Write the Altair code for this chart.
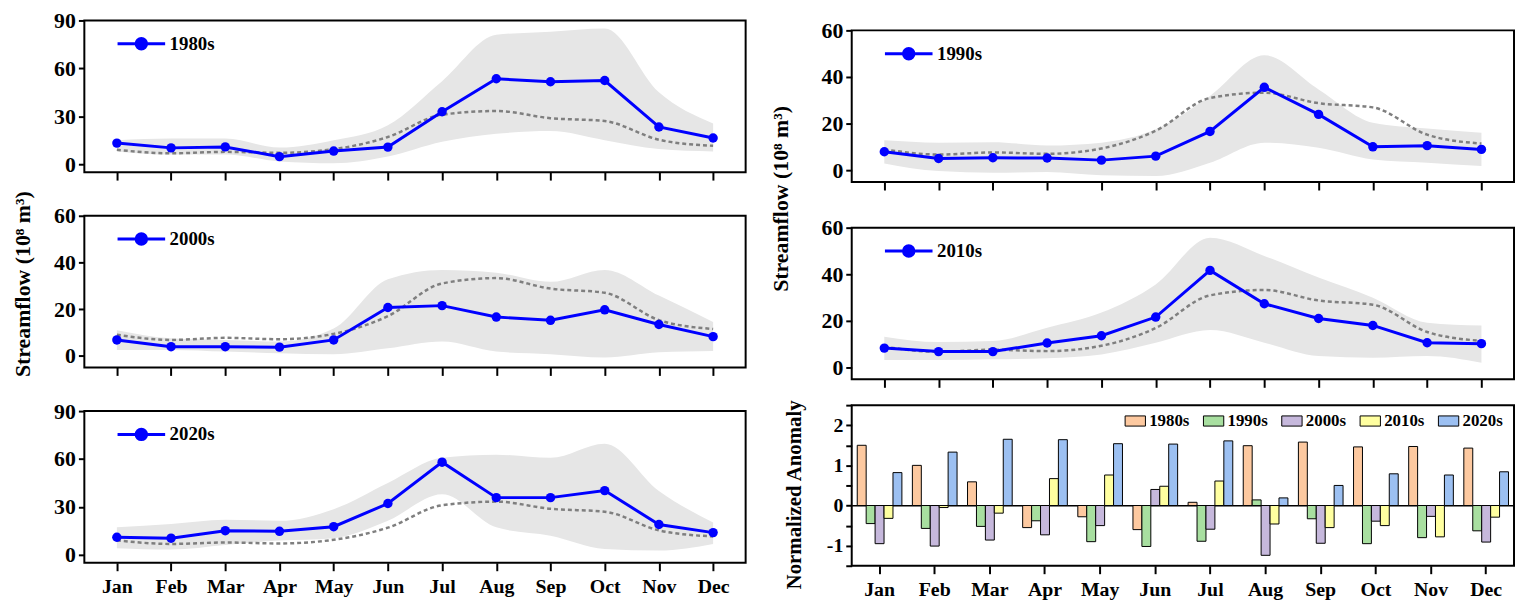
import altair as alt
import pandas as pd

FONT = "Liberation Serif"

months = ["Jan", "Feb", "Mar", "Apr", "May", "Jun", "Jul", "Aug", "Sep", "Oct", "Nov", "Dec"]
decades = ["1980s", "1990s", "2000s", "2010s", "2020s"]
bar_colors = ["#FDC9A0", "#A8DFA0", "#C6B8DC", "#FFFFA0", "#9CC0F2"]

# long-term monthly mean (grey dashed line)
mean_flow = [9.0, 6.8, 7.7, 7.1, 9.4, 17.0, 31.0, 33.3, 28.8, 27.0, 15.3, 11.5]

# decadal monthly streamflow (blue) and its band (grey)
flow_1980s = [13.2, 10.2, 10.8, 4.7, 8.2, 10.7, 32.8, 53.5, 51.6, 52.4, 23.3, 16.4]
upper_1980s = [15.0, 16.0, 16.0, 10.4, 15.0, 24.4, 52.0, 81.0, 83.0, 85.0, 45.0, 25.5]
lower_1980s = [8.0, 6.0, 6.0, 1.7, 0.6, 4.8, 14.0, 19.0, 20.7, 15.0, 9.5, 8.0]

flow_1990s = [8.0, 5.1, 5.4, 5.3, 4.4, 6.1, 16.7, 35.6, 24.0, 10.1, 10.6, 9.0]
upper_1990s = [12.9, 11.9, 12.1, 10.7, 11.9, 17.6, 31.9, 49.3, 34.7, 20.4, 17.9, 16.1]
lower_1990s = [3.0, -0.3, -1.0, -0.7, -2.1, -2.4, 3.3, 11.9, 9.7, 4.7, 3.3, 1.9]

flow_2000s = [6.8, 3.9, 3.9, 3.7, 6.8, 20.7, 21.5, 16.6, 15.2, 19.7, 13.4, 8.2]
upper_2000s = [11.0, 7.5, 6.8, 6.1, 11.7, 32.8, 36.8, 35.6, 31.7, 36.8, 25.8, 14.5]
lower_2000s = [2.5, 2.5, 1.8, 1.1, 0.7, 3.2, 6.1, 1.8, 0.7, -0.7, 1.5, 2.1]

flow_2010s = [8.4, 6.9, 6.9, 10.6, 13.7, 21.7, 41.7, 27.4, 21.1, 18.1, 10.7, 10.3]
upper_2010s = [13.3, 11.0, 11.4, 17.1, 23.6, 35.7, 55.7, 47.9, 38.6, 30.0, 19.3, 18.1]
lower_2010s = [3.3, 3.3, 3.6, 4.1, 5.7, 10.7, 16.1, 10.7, 5.0, 4.3, 5.0, 2.1]

flow_2020s = [11.0, 10.4, 15.1, 14.7, 17.6, 32.1, 58.0, 35.8, 35.8, 40.2, 19.0, 13.9]
upper_2020s = [17.2, 19.3, 22.0, 21.3, 28.6, 45.0, 60.7, 62.7, 60.7, 69.6, 40.0, 20.3]
lower_2020s = [4.1, 3.3, 6.2, 8.9, 10.4, 21.3, 37.9, 17.2, 12.0, 3.7, 2.7, 6.8]

# normalized anomaly per decade
anom_1980s = [1.50, 1.00, 0.59, -0.55, -0.28, -0.60, 0.08, 1.49, 1.58, 1.46, 1.47, 1.43]
anom_1990s = [-0.45, -0.57, -0.52, -0.38, -0.90, -1.02, -0.89, 0.14, -0.33, -0.95, -0.80, -0.63]
anom_2000s = [-0.95, -1.01, -0.86, -0.73, -0.50, 0.40, -0.59, -1.24, -0.94, -0.39, -0.27, -0.91]
anom_2010s = [-0.32, -0.05, -0.19, 0.67, 0.76, 0.48, 0.61, -0.46, -0.55, -0.50, -0.78, -0.29]
anom_2020s = [0.82, 1.33, 1.65, 1.64, 1.54, 1.53, 1.61, 0.19, 0.50, 0.79, 0.76, 0.84]

anom_ticks = [-1.5, -1, -0.5, 0, 0.5, 1, 1.5, 2, 2.5]

YTITLE = "Streamflow (10\u2078 m\u00b3)"
LINE_SYMBOL = "M-1,0H1M0.22,0A0.22,0.22,0,1,1,-0.22,0A0.22,0.22,0,1,1,0.22,0Z"
BAR_SYMBOL = "M-1,-0.5H1V0.5H-1Z"

WL = 667
WR = 668
H = 153


def line_panel(dec, flow, lo, hi, ymax, yvals, show_labels, width):
    df = pd.DataFrame({"month": months, "flow": flow, "lo": lo, "hi": hi,
                       "mean": mean_flow, "series": [dec] * 12})
    base = alt.Chart(df)
    x = alt.X("month:N", sort=months,
              scale=alt.Scale(type="point", padding=0.6),
              axis=alt.Axis(title=None, labels=show_labels, tickSize=8, labelPadding=6,
                            labelFontSize=20, labelAngle=0))
    yscale = alt.Scale(domain=[-5, ymax], nice=False, zero=False)
    band = base.mark_area(color="#E6E6E6", interpolate="monotone").encode(
        x=x,
        y=alt.Y("lo:Q", scale=yscale,
                axis=alt.Axis(values=yvals, tickSize=6, labelFontSize=22, labelPadding=3, title=None)),
        y2="hi:Q")
    mean = base.mark_line(color="#7F7F7F", strokeDash=[4, 3], strokeWidth=2.5,
                          interpolate="monotone").encode(x=x, y="mean:Q")
    legend = alt.Legend(title=None, orient="none", legendX=32, legendY=-2, padding=0,
                        symbolType=LINE_SYMBOL, symbolSize=2304, symbolStrokeWidth=3,
                        symbolFillColor="#0000FF", symbolStrokeColor="#0000FF",
                        labelFont=FONT, labelFontSize=19, labelFontWeight="bold",
                        labelColor="black", labelOffset=3)
    line = base.mark_line(strokeWidth=3, point=alt.OverlayMarkDef(filled=True, size=90)).encode(
        x=x, y="flow:Q",
        color=alt.Color("series:N", scale=alt.Scale(domain=[dec], range=["#0000FF"]), legend=legend))
    return alt.layer(band, mean, line).properties(width=width, height=H)


p80 = line_panel("1980s", flow_1980s, lower_1980s, upper_1980s, 90, [0, 30, 60, 90], False, WL)
p00 = line_panel("2000s", flow_2000s, lower_2000s, upper_2000s, 60, [0, 20, 40, 60], False, WL)
p20 = line_panel("2020s", flow_2020s, lower_2020s, upper_2020s, 90, [0, 30, 60, 90], True, WL)
p90 = line_panel("1990s", flow_1990s, lower_1990s, upper_1990s, 60, [0, 20, 40, 60], False, WR)
p10 = line_panel("2010s", flow_2010s, lower_2010s, upper_2010s, 60, [0, 20, 40, 60], False, WR)

# bar chart
rows = []
for dec, vals in zip(decades, [anom_1980s, anom_1990s, anom_2000s, anom_2010s, anom_2020s]):
    for m, v in zip(months, vals):
        rows.append({"month": m, "decade": dec, "anomaly": v})
bdf = pd.DataFrame(rows)

bar_legend = alt.Legend(title=None, orient="none", legendX=275, legendY=5, direction="horizontal",
                        columns=5, padding=0, symbolType=BAR_SYMBOL, symbolSize=420,
                        symbolStrokeColor="black", symbolStrokeWidth=1, symbolOpacity=1,
                        labelFont=FONT, labelFontSize=17, labelFontWeight="bold",
                        labelColor="black", labelOffset=3, columnPadding=11)
barchart = alt.Chart(bdf).mark_bar(stroke="black", strokeWidth=1, opacity=1).encode(
    x=alt.X("month:N", sort=months,
            scale=alt.Scale(paddingInner=0.19, paddingOuter=0.1),
            axis=alt.Axis(title=None, labelAngle=0, tickSize=8, labelPadding=6, labelFontSize=20)),
    xOffset=alt.XOffset("decade:N", sort=decades),
    y=alt.Y("anomaly:Q", stack=None,
            scale=alt.Scale(domain=[-1.5, 2.5], nice=False, zero=False),
            axis=alt.Axis(title="Normalized Anomaly", values=anom_ticks,
                          labelExpr="datum.value == round(datum.value) ? '' + datum.value : ''",
                          tickSize=6, labelFontSize=20, labelPadding=3, titlePadding=22,
                          titleFontSize=21, titleFont=FONT, titleFontWeight="bold",
                          titleColor="black", titleY=90,
                          grid=True, gridColor="black", gridWidth=1.5,
                          gridOpacity={"condition": {"test": "datum.value == 0", "value": 1},
                                       "value": 0})),
    color=alt.Color("decade:N", sort=decades,
                    scale=alt.Scale(domain=decades, range=bar_colors), legend=bar_legend),
).properties(width=WR, height=162)

# invisible spacer that lowers the right column slightly
spacer = alt.Chart(pd.DataFrame({"t": [""]})).mark_text().encode(text="t:N").properties(
    width=1, height=8, view=alt.ViewBackground(stroke="transparent"))

title_kw = dict(orient="left", anchor="middle", font=FONT, fontSize=22, fontWeight="bold",
                color="black")

left = alt.vconcat(p80, p00, p20, spacing=22).resolve_scale(
    color="independent", x="independent", y="independent").resolve_legend(color="independent"
).properties(title=alt.TitleParams(YTITLE, dx=19, offset=18, **title_kw))
right_top = alt.vconcat(p90, p10, spacing=24).resolve_scale(
    color="independent", x="independent", y="independent").resolve_legend(color="independent"
).properties(title=alt.TitleParams(YTITLE, dx=5, offset=27, **title_kw))
right_bottom = alt.vconcat(right_top, barchart, spacing=9).resolve_scale(
    color="independent", x="independent", y="independent").resolve_legend(color="independent")
right = alt.vconcat(spacer, right_bottom, spacing=-22).resolve_scale(
    color="independent", x="independent", y="independent").resolve_legend(color="independent")

chart = alt.hconcat(left, right, spacing=23).resolve_scale(
    color="independent", x="independent", y="independent").resolve_legend(color="independent")

chart = chart.properties(padding={"left": 3, "top": -2, "right": 0, "bottom": 0}).configure_view(
    stroke="black", strokeWidth=2
).configure_axis(
    domain=False, labelFont=FONT, labelFontWeight="bold", labelColor="black",
    tickColor="black", tickWidth=2, grid=False
)

chart.save("out.html", embed_options={"renderer": "svg", "actions": False})
